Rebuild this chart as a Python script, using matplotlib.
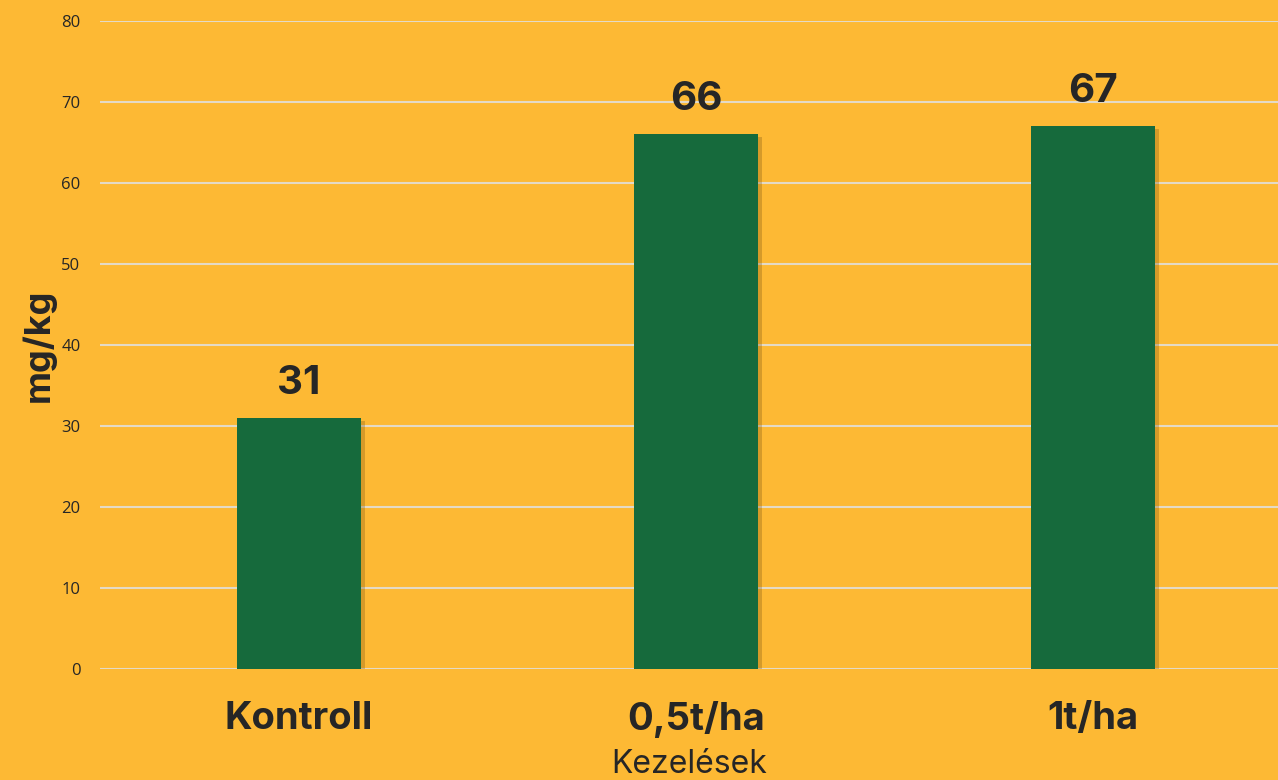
import matplotlib
matplotlib.use("Agg")
import matplotlib.pyplot as plt
import matplotlib.patheffects as pe

categories = ["Kontroll", "0,5t/ha", "1t/ha"]
values = [31, 66, 67]
y_ticks = [0, 10, 20, 30, 40, 50, 60, 70, 80]

bg = "#FDB934"
bar_color = "#166A3C"
text_color = "#262626"
bold_font = ["Inter", "DejaVu Sans"]
tick_font = ["Open Sans", "DejaVu Sans"]

fig = plt.figure(figsize=(12.78, 7.8), dpi=100, facecolor=bg)
ax = fig.add_axes([0.0782, 0.1423, 0.9218, 0.8308], facecolor=bg)

x = list(range(len(categories)))
bars = ax.bar(x, values, width=0.312, color=bar_color, zorder=3)
for b in bars:
    b.set_path_effects([pe.SimplePatchShadow(offset=(3, -2), shadow_rgbFace="#7a5412", alpha=0.3),
                        pe.Normal()])

for xi, v in zip(x, values):
    ax.annotate(str(v), (xi, v), xytext=(0, 25), textcoords="offset points",
                ha="center", va="center", fontsize=29, fontweight="bold",
                color=text_color, family=bold_font)

ax.set_xlim(-0.501, 2.466)
ax.set_ylim(0, 80)
ax.set_yticks(y_ticks)
ax.yaxis.grid(True, color="#E4DAC6", linewidth=1.5, zorder=0)
ax.set_axisbelow(True)
ax.tick_params(axis="y", length=0, pad=14, labelsize=12, labelcolor=text_color)
for lab in ax.get_yticklabels():
    lab.set_family(tick_font)

ax.set_xticks(x)
ax.set_xticklabels(categories, fontsize=27.5, fontweight="bold", color=text_color, family=bold_font)
ax.tick_params(axis="x", length=0, pad=23)

ax.set_xlabel("Kezelések", fontsize=23, color=text_color, family=bold_font, labelpad=8)
ax.set_ylabel("mg/kg", fontsize=26, fontweight="bold", color=text_color, family=bold_font, labelpad=4)

for s in ax.spines.values():
    s.set_visible(False)

fig.savefig("out.png", dpi=100, facecolor=bg)
